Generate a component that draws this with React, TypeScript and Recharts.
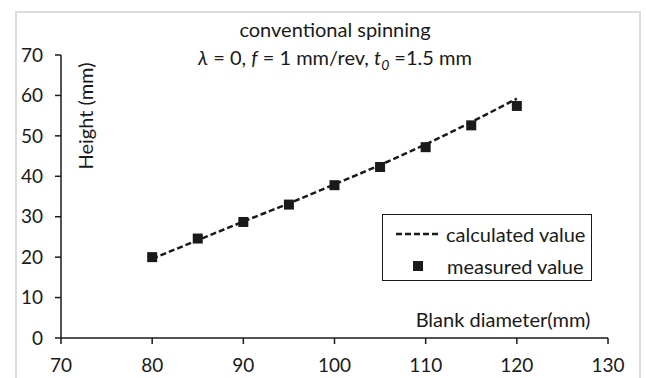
import React from 'react';
import { ComposedChart, Line, Scatter, XAxis, YAxis } from 'recharts';

// blank diameter (mm)
const diameters = [80, 85, 90, 95, 100, 105, 110, 115, 120];
// calculated height (mm), dashed curve
const calculated = [19.6, 24.2, 28.8, 33.3, 38.0, 42.8, 47.9, 53.4, 59.2];
// measured height (mm), square markers
const measured = [20.0, 24.6, 28.7, 33.0, 37.8, 42.3, 47.2, 52.6, 57.4];

const xTicks = [70, 80, 90, 100, 110, 120, 130];
const yTicks = [0, 10, 20, 30, 40, 50, 60, 70];

const FONT = 'Lato, "Open Sans", sans-serif';
const INK = '#1a1a1a';

const chartData = diameters.map((d, i) => ({
  d,
  calc: calculated[i],
  meas: measured[i],
}));

const SquareDot = (props: any) => {
  const { cx, cy } = props;
  if (cx == null || cy == null) return null;
  return <rect x={cx - 5} y={cy - 5} width={10} height={10} fill={INK} />;
};

// legend drawn as a plain box so it does not take space from the plot
const LegendBox = () => (
  <div
    style={{
      position: 'absolute',
      left: 382,
      top: 214,
      width: 210,
      height: 67,
      border: `1.5px solid ${INK}`,
      background: '#fff',
      boxSizing: 'border-box',
      fontFamily: FONT,
      fontSize: 20,
      color: INK,
    }}
  >
    <div style={{ display: 'flex', alignItems: 'center', height: 33, paddingTop: 2 }}>
      <svg width={63} height={10} style={{ flex: 'none' }}>
        <line x1={13} y1={5} x2={58} y2={5} stroke={INK} strokeWidth={2.5} strokeDasharray="6 3" />
      </svg>
      <span>calculated value</span>
    </div>
    <div style={{ display: 'flex', alignItems: 'center', height: 31 }}>
      <svg width={64} height={12} style={{ flex: 'none' }}>
        <rect x={30} y={1} width={10} height={10} fill={INK} />
      </svg>
      <span>measured value</span>
    </div>
  </div>
);

export default function App() {
  return (
    <div style={{ position: 'absolute', left: 0, top: 0, width: 646, height: 378, background: '#fff', overflow: 'hidden' }}>
      <div
        style={{
          position: 'absolute',
          left: 15,
          top: 11,
          width: 626,
          height: 380,
          border: '2px solid #dcdcdc',
          boxSizing: 'border-box',
        }}
      />
      <ComposedChart
        width={646}
        height={378}
        data={chartData}
        margin={{ top: 55, right: 38, left: 0, bottom: 0 }}
        style={{ position: 'absolute', left: 0, top: 0 }}
      >
        <XAxis
          type="number"
          dataKey="d"
          domain={[70, 130]}
          ticks={xTicks}
          interval={0}
          height={40}
          tickSize={6}
          tickMargin={15}
          axisLine={{ stroke: INK, strokeWidth: 1.5 }}
          tickLine={{ stroke: INK, strokeWidth: 1.5 }}
          tick={{ fill: INK, fontSize: 19, fontFamily: FONT }}
          label={{
            content: () => (
              <text x={503} y={322} textAnchor="middle" dominantBaseline="middle" fill={INK} fontSize={20} fontFamily={FONT}>
                Blank diameter(mm)
              </text>
            ),
          }}
        />
        <YAxis
          type="number"
          domain={[0, 70]}
          ticks={yTicks}
          interval={0}
          width={61}
          tickSize={6}
          tickMargin={12}
          axisLine={{ stroke: INK, strokeWidth: 1.5 }}
          tickLine={{ stroke: INK, strokeWidth: 1.5 }}
          tick={{ fill: INK, fontSize: 19, fontFamily: FONT }}
          label={{
            content: () => (
              <text
                x={88}
                y={116}
                transform="rotate(-90 88 116)"
                textAnchor="middle"
                dominantBaseline="middle"
                fill={INK}
                fontSize={20}
                fontFamily={FONT}
              >
                Height (mm)
              </text>
            ),
          }}
        />
        <Line
          name="calculated value"
          type="monotone"
          dataKey="calc"
          stroke={INK}
          strokeWidth={2.5}
          strokeDasharray="6 3"
          dot={false}
          activeDot={false}
          isAnimationActive={false}
        />
        <Scatter name="measured value" dataKey="meas" fill={INK} shape={SquareDot} isAnimationActive={false} />
      </ComposedChart>
      <div
        style={{
          position: 'absolute',
          left: 135,
          width: 400,
          top: 15,
          textAlign: 'center',
          fontFamily: FONT,
          fontSize: 20,
          color: INK,
          lineHeight: '28px',
        }}
      >
        <div>conventional spinning</div>
        <div>
          <i>λ</i> = 0, <i>f</i> = 1 mm/rev, <i>t</i>
          <sub style={{ fontSize: 14, fontStyle: 'italic', lineHeight: 0 }}>0</sub> =1.5 mm
        </div>
      </div>
      <LegendBox />
    </div>
  );
}
